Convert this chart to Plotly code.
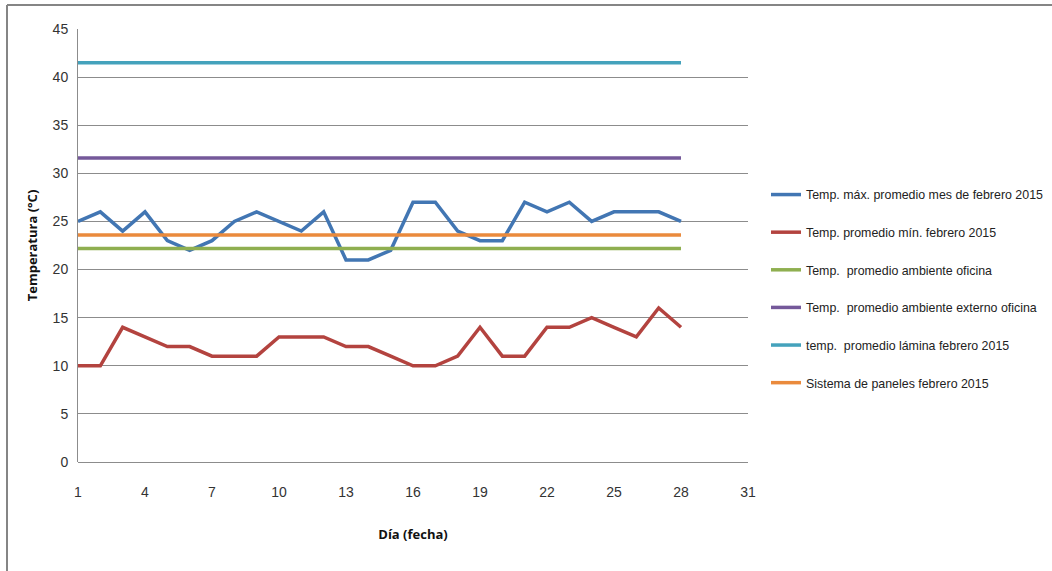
import plotly.graph_objects as go

# Days of February 2015
dias = list(range(1, 29))

# Daily series (°C)
temp_max = [25, 26, 24, 26, 23, 22, 23, 25, 26, 25, 24, 26, 21, 21,
            22, 27, 27, 24, 23, 23, 27, 26, 27, 25, 26, 26, 26, 25]
temp_min = [10, 10, 14, 13, 12, 12, 11, 11, 11, 13, 13, 13, 12, 12,
            11, 10, 10, 11, 14, 11, 11, 14, 14, 15, 14, 13, 16, 14]

# Monthly averages drawn as flat lines (°C)
prom_ambiente_oficina = 22.2
prom_ambiente_externo = 31.6
prom_lamina = 41.5
sistema_paneles = 23.6

nombres = [
    "Temp. máx. promedio mes de febrero 2015",
    "Temp. promedio mín. febrero 2015",
    "Temp.  promedio ambiente oficina",
    "Temp.  promedio ambiente externo oficina",
    "temp.  promedio lámina febrero 2015",
    "Sistema de paneles febrero 2015",
]
colores = ["#4276B3", "#B3433F", "#8FAF50", "#75599A", "#44A2BC", "#EA8A3C"]

series = [
    temp_max,
    temp_min,
    [prom_ambiente_oficina] * len(dias),
    [prom_ambiente_externo] * len(dias),
    [prom_lamina] * len(dias),
    [sistema_paneles] * len(dias),
]

FONT = "Liberation Sans, Arial, sans-serif"

fig = go.Figure()
for i, (nombre, valores, color) in enumerate(zip(nombres, series, colores)):
    fig.add_trace(go.Scatter(
        x=dias, y=valores, name=nombre, mode="lines",
        line=dict(color=color, width=3.5),
        legendgroup=f"g{i}",
    ))

W, H = 1052, 571
ml, mr, mt, mb = 78, 304, 29, 109
pw, ph = W - ml - mr, H - mt - mb

fig.update_layout(
    width=W, height=H,
    margin=dict(l=ml, r=mr, t=mt, b=mb, autoexpand=False),
    paper_bgcolor="white", plot_bgcolor="white",
    font=dict(family=FONT, size=14, color="#333333"),
    showlegend=True,
    legend=dict(
        x=(766 - ml) / pw, y=(462 - 180) / ph, xanchor="left", yanchor="top",
        font=dict(family=FONT, size=12.4, color="#222222"),
        traceorder="grouped", tracegroupgap=18.5,
        itemwidth=30, bgcolor="rgba(0,0,0,0)",
    ),
    xaxis=dict(
        range=[1, 31], tick0=1, dtick=3, showgrid=False,
        zeroline=False, showline=False, ticks="",
        ticklabelstandoff=20,
        tickfont=dict(family=FONT, size=14, color="#333333"),
        title=dict(text="<b>Día (fecha)</b>", standoff=30,
                   font=dict(family="Open Sans, sans-serif", size=13, color="#111111")),
    ),
    yaxis=dict(
        range=[0, 45], dtick=5, showgrid=True, gridcolor="#8c8c8c", gridwidth=1,
        zeroline=True, zerolinecolor="#8c8c8c", zerolinewidth=1,
        showline=True, linecolor="#8c8c8c", linewidth=1, ticks="",
        ticklabelstandoff=6,
        tickfont=dict(family=FONT, size=14, color="#333333"),
        title=dict(text="<b>Temperatura (°C)</b>", standoff=12,
                   font=dict(family="Open Sans, sans-serif", size=13, color="#111111")),
    ),
    shapes=[
        # chart frame: top and left edges
        dict(type="line", xref="paper", yref="paper",
             x0=(7 - ml) / pw, x1=(W - ml) / pw,
             y0=(H - mb - 5) / ph, y1=(H - mb - 5) / ph,
             line=dict(color="#858585", width=2)),
        dict(type="line", xref="paper", yref="paper",
             x0=(7 - ml) / pw, x1=(7 - ml) / pw,
             y0=(H - mb - 5) / ph, y1=(H - mb - H - 2) / ph,
             line=dict(color="#858585", width=2)),
    ],
)

fig.write_html("out.html")
